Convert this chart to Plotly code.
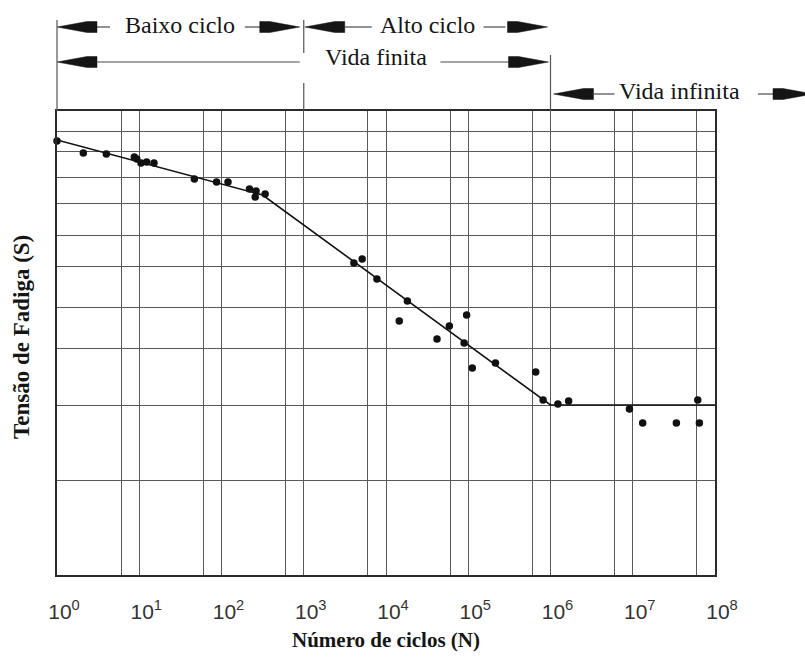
import numpy as np
import plotly.graph_objects as go

# Fatigue test results: cycles to failure (N) and applied stress (S, arbitrary units)
cycles = [1, 2.09, 3.98, 8.71, 9.33, 10.5, 12.3, 15.1, 46.8, 87.1, 120, 219, 263, 257, 339,
          4070, 5130, 7760, 18200, 14500, 58900, 41700, 95500, 89100,
          112000, 214000, 661000, 813000, 1230000, 1660000,
          9120000, 13200000, 33900000, 61700000, 64600000]
stress = [434, 422, 421, 418, 416, 412, 413, 412, 396, 393, 393, 386, 384, 378, 381,
          312, 316, 296, 274, 254, 249, 236, 260, 232,
          207, 212, 203, 175, 171, 174,
          166, 152, 152, 175, 152]

# Idealised S-N curve: low-cycle branch, high-cycle branch, endurance limit
curve_cycles = [1, 316, 1e6, 1e8]
curve_stress = [435, 380, 170, 170]

# Axis decades and grid
decades = list(range(0, 9))
decade_labels = [f"10<sup>{k}</sup>" for k in decades]
minor_cycles = [6 * 10 ** k for k in range(0, 8)]
stress_grid = [0, 95, 170, 227, 268, 309, 340, 372, 398, 424, 444, 464]

# Life regimes shown above the chart (boundaries in cycles)
regimes_row1 = [("Baixo ciclo", 1, 1e3), ("Alto ciclo", 1e3, 1e6)]
finite_label = "Vida finita"
infinite_label = "Vida infinita"
x_title = "<b>Número de ciclos (N)</b>"
y_title = "<b>Tensão de Fadiga (S)</b>"

X_MIN, X_MAX = 0, 8
GRID = "#595959"
FRAME = "#2b2b2b"
INK = "#151515"
SERIF = "Liberation Serif, Times New Roman, serif"
SANS = "Liberation Sans, Arial, sans-serif"

fig = go.Figure()

fig.add_trace(go.Scatter(
    x=np.log10(curve_cycles), y=curve_stress, mode="lines",
    line=dict(color="#111111", width=1.6), hoverinfo="skip", cliponaxis=False))

fig.add_trace(go.Scatter(
    x=np.log10(cycles), y=stress, mode="markers",
    marker=dict(color="#111111", size=7.5), cliponaxis=False))


def frac(n):
    """Paper x-fraction of a cycle count on the decade axis."""
    return (np.log10(n) - X_MIN) / (X_MAX - X_MIN)


shapes = []


def head(n, dy, tip, direction):
    """Filled arrowhead; tip offset in px from cycle n, dy px above plot top."""
    s = direction
    pts = [(tip, 0), (tip - s * 30, 5.5), (tip - s * 40, 5.5),
           (tip - s * 40, -5.5), (tip - s * 30, -5.5)]
    path = "M " + " L ".join(f"{x},{y + dy}" for x, y in pts) + " Z"
    shapes.append(dict(type="path", xref="paper", yref="paper",
                       xsizemode="pixel", ysizemode="pixel",
                       xanchor=frac(n), yanchor=1, path=path,
                       fillcolor=INK, line=dict(color=INK, width=0.5)))


def seg(n, dy, px0, px1):
    shapes.append(dict(type="line", xref="paper", yref="paper",
                       xsizemode="pixel", ysizemode="pixel",
                       xanchor=frac(n), yanchor=1, x0=px0, x1=px1, y0=dy, y1=dy,
                       line=dict(color="#4a4a4a", width=1.2)))


def vline(n, py0, py1):
    shapes.append(dict(type="line", xref="paper", yref="paper",
                       xsizemode="pixel", ysizemode="pixel",
                       xanchor=frac(n), yanchor=1, x0=0, x1=0, y0=py0, y1=py1,
                       line=dict(color="#555555", width=1.2)))


# Row 1: low / high cycle
R1 = 84
head(1, R1, 0, -1); seg(1, R1, 40, 53)
seg(1e3, R1, -59, -43); head(1e3, R1, -4, 1)
head(1e3, R1, 1, -1); seg(1e3, R1, 41, 68)
seg(1e6, R1, -67, -45); head(1e6, R1, -3, 1)
# Row 2: finite life
R2 = 49
head(1, R2, 0, -1); seg(1e3, R2, -207, -4)
seg(1e6, R2, -110, -40); head(1e6, R2, -2, 1)
# Row 3: infinite life
R3 = 17
head(1e6, R3, 3, -1); seg(1e6, R3, 42, 64)
seg(1e8, R3, 43, 60); head(1e8, R3, 98, 1)

# Regime boundaries
vline(1, 0, 91)
vline(1e3, 0, 28)
vline(1e3, 58, 91)
vline(1e6, 0, 56)

annotations = []


def label(text, n, dy, xanchor="center", xshift=0):
    annotations.append(dict(text=text, xref="paper", yref="paper", x=frac(n), y=1,
                            xanchor=xanchor, yanchor="middle", xshift=xshift, yshift=dy,
                            showarrow=False, font=dict(family=SERIF, size=24, color=INK)))


for name, lo, hi in regimes_row1:
    label(name, np.sqrt(lo * hi), R1 + 2)
label(finite_label, 1e3, R2 + 5, xanchor="left", xshift=19)
label(infinite_label, 1e6, R3 + 3, xanchor="left", xshift=66)

# Vertical axis title, placed left of the frame
annotations.append(dict(text=y_title, xref="paper", yref="paper", x=0, y=0.5,
                        xanchor="center", yanchor="middle", xshift=-36, yshift=6,
                        textangle=-90, showarrow=False,
                        font=dict(family=SERIF, size=23, color=INK)))

fig.update_layout(
    template="none",
    width=805, height=666,
    margin=dict(l=57, r=90, t=111, b=91),
    plot_bgcolor="white", paper_bgcolor="white",
    showlegend=False,
    shapes=shapes,
    annotations=annotations,
)

fig.update_xaxes(
    range=[X_MIN, X_MAX], tickvals=decades, ticktext=decade_labels,
    showgrid=True, gridcolor=GRID, gridwidth=1,
    minor=dict(tickvals=np.log10(minor_cycles).tolist(), showgrid=True,
               gridcolor=GRID, gridwidth=1, ticks=""),
    showline=True, linecolor=FRAME, linewidth=2, mirror=True,
    ticks="", zeroline=False, automargin=False,
    tickfont=dict(family=SANS, size=21, color="#333333"),
    ticklabelshift=7, ticklabelstandoff=17,
    title=dict(text=x_title, standoff=10,
               font=dict(family=SERIF, size=21, color=INK)),
)

fig.update_yaxes(
    range=[0, 464], tickvals=stress_grid, showticklabels=False,
    showgrid=True, gridcolor=GRID, gridwidth=1,
    showline=True, linecolor=FRAME, linewidth=2, mirror=True,
    ticks="", zeroline=False, automargin=False,
)

fig.write_html("out.html")
